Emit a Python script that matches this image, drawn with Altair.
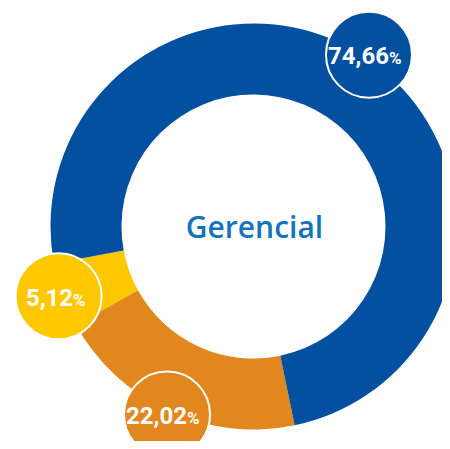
import math
import altair as alt
import pandas as pd

# Slices in drawing order (clockwise, starting at the blue/orange boundary)
slice_ids = [0, 1, 2]
shares = [20.22, 5.12, 74.66]          # arc sizes
labels = ["22,02", "5,12", "74,66"]    # printed labels
colors = ["#e1871e", "#fdc800", "#0450a0"]
center_title = "Gerencial"

df = pd.DataFrame({"idx": slice_ids, "share": shares, "label": labels, "color": colors})

W, H = 434, 433
CX, CY = 245.5, 218.5
R_OUT, R_IN = 203, 132
LR = 207
START = math.radians(168.3)
CR = 43

arc = alt.Chart(df).mark_arc(radius=R_OUT, radius2=R_IN).encode(
    theta=alt.Theta("share:Q", stack=True,
                    scale=alt.Scale(range=[START, START + 2 * math.pi])),
    color=alt.Color("color:N", scale=None),
    order=alt.Order("idx:Q"),
    x=alt.value(CX),
    y=alt.value(CY),
)

pos = alt.Chart(df).transform_joinaggregate(
    total="sum(share)"
).transform_window(
    cum="sum(share)", sort=[alt.SortField("idx")], frame=[None, 0]
).transform_calculate(
    ang=f"{START} + 2*PI*(datum.cum - datum.share/2)/datum.total"
).transform_calculate(
    px=f"{CX} + {LR}*sin(datum.ang)",
    py=f"{CY} - {LR}*cos(datum.ang)",
).transform_calculate(
    tx="datum.px + length(datum.label)*5.5 - 7.5",
    ty="datum.py + 9.5",
)

circles = pos.mark_circle(size=(2 * CR) ** 2, opacity=1, stroke="white",
                          strokeWidth=2).encode(
    x=alt.X("px:Q", scale=None, axis=None),
    y=alt.Y("py:Q", scale=None, axis=None),
    color=alt.Color("color:N", scale=None),
)

nums = pos.mark_text(font="Roboto", fontWeight="bold", fontSize=24, align="right",
                     baseline="alphabetic", color="white").encode(
    x=alt.X("tx:Q", scale=None, axis=None),
    y=alt.Y("ty:Q", scale=None, axis=None),
    text="label:N",
)

pct = pos.mark_text(font="Roboto", fontWeight="bold", fontSize=17, align="left",
                    baseline="alphabetic", color="white", text="%").encode(
    x=alt.X("tx:Q", scale=None, axis=None),
    y=alt.Y("ty:Q", scale=None, axis=None),
)

title = alt.Chart(pd.DataFrame({"t": [center_title]})).mark_text(
    font="Open Sans", fontWeight=600, fontSize=30, color="#1473bd",
    align="center", baseline="middle").encode(
    x=alt.value(CX + 1), y=alt.value(CY + 2), text="t:N")

chart = alt.layer(arc, circles, nums, pct, title).properties(
    width=W, height=H, padding=0, autosize=alt.AutoSizeParams(type="none")
).configure_view(stroke=None)

chart.save("out.html", embed_options={"renderer": "svg", "actions": False})
